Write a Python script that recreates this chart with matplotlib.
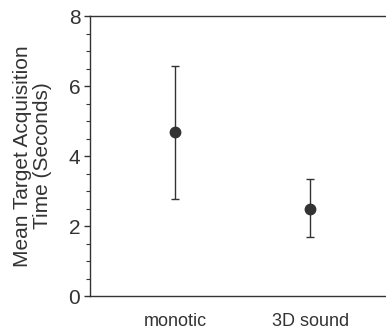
import matplotlib
matplotlib.use("Agg")
import matplotlib.pyplot as plt
from matplotlib.ticker import MultipleLocator

conditions = ["monotic", "3D sound"]
means = [4.69, 2.50]
err_low = [2.78, 1.70]
err_high = [6.57, 3.33]

plt.rcParams['font.family'] = ['Liberation Sans', 'DejaVu Sans']
ink = "#333333"

fig = plt.figure(figsize=(3.86, 3.33), dpi=100)
ax = fig.add_axes([90 / 386, 37 / 333, 1 - 90 / 386, 280 / 333])

x = list(range(len(conditions)))
yerr = [[m - lo for m, lo in zip(means, err_low)],
        [hi - m for m, hi in zip(means, err_high)]]
ax.errorbar(x, means, yerr=yerr, fmt="o", color=ink, ecolor=ink,
            markersize=7.5, elinewidth=1.0, capsize=3, capthick=1.0)

ax.set_xlim(-0.63, 1.56)
ax.set_ylim(0, 8)
ax.yaxis.set_major_locator(MultipleLocator(2))
ax.yaxis.set_minor_locator(MultipleLocator(0.5))
ax.set_xticks(x)
ax.set_xticklabels(conditions, fontsize=13, color=ink)
ax.tick_params(axis="x", length=0, pad=12)
ax.tick_params(axis="y", which="major", length=4, width=1, colors=ink,
               labelsize=15, pad=3)
ax.tick_params(axis="y", which="minor", length=3, width=0.8, colors=ink)

for side in ["left", "top", "bottom"]:
    ax.spines[side].set_color(ink)
    ax.spines[side].set_linewidth(1.0)
ax.spines["right"].set_visible(False)

ax.set_ylabel("Mean Target Acquisition\nTime (Seconds)", fontsize=15,
              color=ink, linespacing=1.05, labelpad=12)

fig.savefig("out.png", dpi=100)
